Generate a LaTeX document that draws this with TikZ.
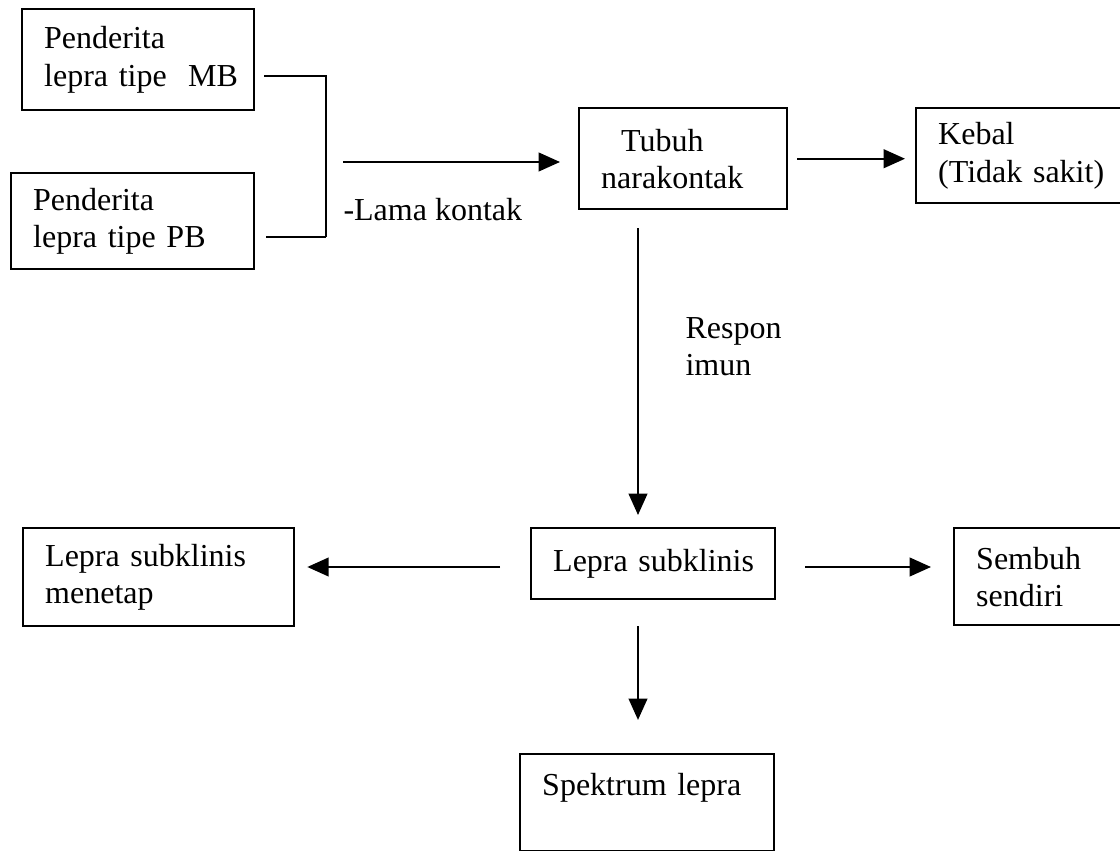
\documentclass[tikz,border=0pt]{standalone}
\usepackage{fontspec}
\setmainfont{Liberation Serif}
\usetikzlibrary{arrows.meta}

\begin{document}
\begin{tikzpicture}[x=0.375pt, y=-0.375pt,
  box/.style={draw, line width=0.9pt, anchor=north west, align=left,
    inner xsep=8.25pt, inner ysep=0pt, font=\fontsize{12}{14}\selectfont,
    execute at begin node={\hyphenpenalty=10000}},
  link/.style={line width=0.75pt},
  arr/.style={link, -{Triangle[length=8pt, width=7pt]}},
  lbl/.style={anchor=north west, inner sep=0pt, align=left, font=\fontsize{12}{14}\selectfont}]
  \clip (0,0) rectangle (1120,851);
  %--- Sources
  \node[box, text width=70.5pt, minimum height=37.9pt] (mb) at (21,8) {Penderita\\lepra~tipe~~MB};
  \node[box, text width=74.6pt, minimum height=36pt] (pb) at (10,172) {Penderita\\lepra tipe PB};
  \coordinate (join1) at (326,76);
  \coordinate (join2) at (326,237);
  \draw[link, shorten <=3.4pt] (mb.east |- join1) -- (join1) -- (join2);
  \draw[link, shorten <=4.1pt] (pb.east |- join2) -- (join2);
  %--- Contact
  \node[box, text width=61.5pt, minimum height=37.9pt] (tubuh) at (578,107) {\hspace*{7.5pt}Tubuh\\narakontak};
  \node[box, text width=77.25pt, minimum height=35.6pt] (kebal) at (915,107) {Kebal\\(Tidak sakit)};
  \coordinate (contact) at (343,162);
  \draw[arr, shorten >=6.75pt] (contact) -- (tubuh.west |- contact);
  \node[lbl] (lama) at (343,198) {-Lama kontak};
  \draw[arr, shorten <=3.4pt, shorten >=3.75pt] (tubuh.east) -- (tubuh.east -| kebal.west);
  %--- Immune response
  \coordinate (axis) at (638,0);
  \node[box, text width=75pt, minimum height=26.6pt] (lepra) at (530,527) {Lepra~subklinis};
  \draw[arr, shorten <=6.75pt, shorten >=4.5pt] (tubuh.south -| axis) -- (lepra.north -| axis);
  \node[lbl] (respon) at (685,317) {Respon\\imun};
  %--- Outcomes
  \node[box, text width=85.1pt, minimum height=36.75pt] (menetap) at (22,527) {Lepra subklinis\\menetap};
  \node[box, text width=77.25pt, minimum height=36.4pt] (sembuh) at (953,527) {Sembuh\\sendiri};
  \node[box, text width=78.75pt, minimum height=36.4pt] (spektrum) at (519,753) {Spektrum lepra\\\mbox{}};
  \coordinate (row) at (0,567);
  \draw[arr, shorten <=11.25pt, shorten >=4.5pt] (lepra.west |- row) -- (menetap.east |- row);
  \draw[arr, shorten <=10.9pt, shorten >=8.25pt] (lepra.east |- row) -- (sembuh.west |- row);
  \draw[arr, shorten <=9.75pt, shorten >=12.4pt] (lepra.south -| axis) -- (spektrum.north -| axis);
\end{tikzpicture}
\end{document}
